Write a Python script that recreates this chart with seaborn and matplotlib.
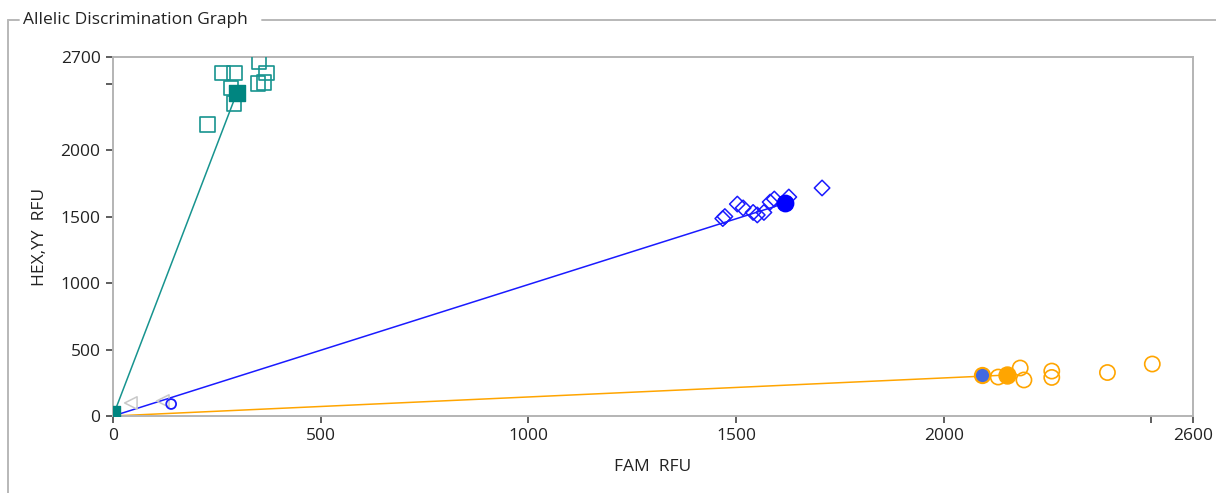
import matplotlib
matplotlib.use("Agg")
import matplotlib.pyplot as plt
from matplotlib.lines import Line2D
import seaborn as sns
import pandas as pd

# ---------------- data ----------------
teal_x = [264, 293, 284, 291, 228, 352, 370, 349, 364]
teal_y = [2581, 2581, 2468, 2350, 2194, 2662, 2580, 2502, 2508]
teal_cx, teal_cy = 298, 2429
teal_ntc_x, teal_ntc_y = [0], [20]

blue_x = [1468, 1473, 1503, 1517, 1541, 1551, 1567, 1582, 1592, 1627, 1707]
blue_y = [1485, 1500, 1594, 1565, 1531, 1512, 1531, 1609, 1632, 1647, 1715]
blue_cx, blue_cy = 1618, 1600
blue_small_x, blue_small_y = [140], [90]

gray_x = [43, 120]
gray_y = [98, 113]

orange_x = [2131, 2184, 2193, 2260, 2260, 2394, 2502]
orange_y = [293, 361, 271, 338, 290, 327, 391]
orange_cx, orange_cy = 2152, 308
mixed_x, mixed_y = [2092], [308]

x_ticks = [0, 500, 1000, 1500, 2000, 2500, 2600]
x_labels = ["0", "500", "1000", "1500", "2000", "", "2600"]
y_ticks = [0, 500, 1000, 1500, 2000, 2500, 2700]
y_labels = ["0", "500", "1000", "1500", "2000", "", "2700"]

TEAL = "#17948f"
TEAL_DARK = "#008580"
BLUE = "#1a1aff"
ORANGE = "#ffa500"
GRAY = "#c8c8c8"

sns.set_theme(style="white")
plt.rcParams["font.family"] = ["Open Sans", "DejaVu Sans"]
TXT = "#222222"

W, H = 1216, 493
fig = plt.figure(figsize=(W / 100, H / 100), dpi=100)
ax = fig.add_axes([113 / W, 1 - 416 / H, (1193 - 113) / W, (416 - 57) / H])

# ---------------- lines from origin to centroids ----------------
for cx, cy, col in [(teal_cx, teal_cy, TEAL), (blue_cx, blue_cy, BLUE), (orange_cx, orange_cy, ORANGE)]:
    sns.lineplot(x=[0, cx], y=[0, cy], ax=ax, color=col, lw=1.1, sort=False,
                 estimator=None, legend=False, zorder=2)

# ---------------- scatter points ----------------
sns.scatterplot(x=gray_x, y=gray_y, ax=ax, marker="<", s=80, facecolors="none",
                edgecolor=GRAY, linewidth=1.1, zorder=3)
sns.scatterplot(x=blue_small_x, y=blue_small_y, ax=ax, marker="o", s=50, facecolors="none",
                edgecolor=BLUE, linewidth=1.3, zorder=3)
sns.scatterplot(x=teal_x, y=teal_y, ax=ax, marker="s", s=110, facecolors="none",
                edgecolor=TEAL, linewidth=1.2, zorder=3)
sns.scatterplot(x=[teal_cx], y=[teal_cy], ax=ax, marker="s", s=135, color=TEAL_DARK,
                edgecolor=TEAL_DARK, linewidth=1, zorder=4)
sns.scatterplot(x=teal_ntc_x, y=teal_ntc_y, ax=ax, marker="s", s=95, color=TEAL_DARK,
                edgecolor=TEAL_DARK, linewidth=1, zorder=4)
sns.scatterplot(x=blue_x, y=blue_y, ax=ax, marker="D", s=62, facecolors="none",
                edgecolor=BLUE, linewidth=1.1, zorder=3)
sns.scatterplot(x=[blue_cx], y=[blue_cy], ax=ax, marker="o", s=140, color="#0000ff",
                edgecolor="#0000ff", linewidth=1, zorder=4)
sns.scatterplot(x=orange_x, y=orange_y, ax=ax, marker="o", s=120, facecolors="none",
                edgecolor=ORANGE, linewidth=1.2, zorder=3)
sns.scatterplot(x=mixed_x, y=mixed_y, ax=ax, marker="o", s=120, color="#4169e1",
                edgecolor=ORANGE, linewidth=1.5, zorder=4)
sns.scatterplot(x=[orange_cx], y=[orange_cy], ax=ax, marker="o", s=150, color=ORANGE,
                edgecolor=ORANGE, linewidth=1, zorder=4)

# ---------------- axes styling ----------------
ax.set_xlim(0, 2600)
ax.set_ylim(0, 2700)
ax.set_xticks(x_ticks)
ax.set_xticklabels(x_labels)
ax.set_yticks(y_ticks)
ax.set_yticklabels(y_labels)
ax.tick_params(axis="both", which="major", direction="out", length=5, width=1.1,
               color="#333333", labelsize=12.5, labelcolor=TXT, pad=4,
               bottom=True, left=True)
for sp in ax.spines.values():
    sp.set_visible(True)
    sp.set_color("#b4b4b4")
    sp.set_linewidth(1.4)
ax.grid(False)
ax.set_facecolor("white")

ax.set_xlabel("FAM  RFU", fontsize=12.5, color=TXT)
ax.set_ylabel("HEX,YY  RFU", fontsize=12.5, color=TXT)
ax.xaxis.set_label_coords(0.5, -0.12)
ax.yaxis.set_label_coords(-0.060, 0.5)

# ---------------- group box frame ----------------
def fx(px):
    return px / W

def fy(py):
    return 1 - py / H

frame_col = "#b8b8b8"
fig.add_artist(Line2D([fx(8), fx(8)], [fy(20), fy(493)], color=frame_col, lw=1.4))
fig.add_artist(Line2D([fx(8), fx(19)], [fy(20), fy(20)], color=frame_col, lw=1.4))
fig.add_artist(Line2D([fx(262), fx(1216)], [fy(20), fy(20)], color=frame_col, lw=1.4))
fig.text(fx(23), fy(20), "Allelic Discrimination Graph", fontsize=12.5, color=TXT,
         ha="left", va="center")

fig.savefig("out.png", dpi=100, facecolor="white")
